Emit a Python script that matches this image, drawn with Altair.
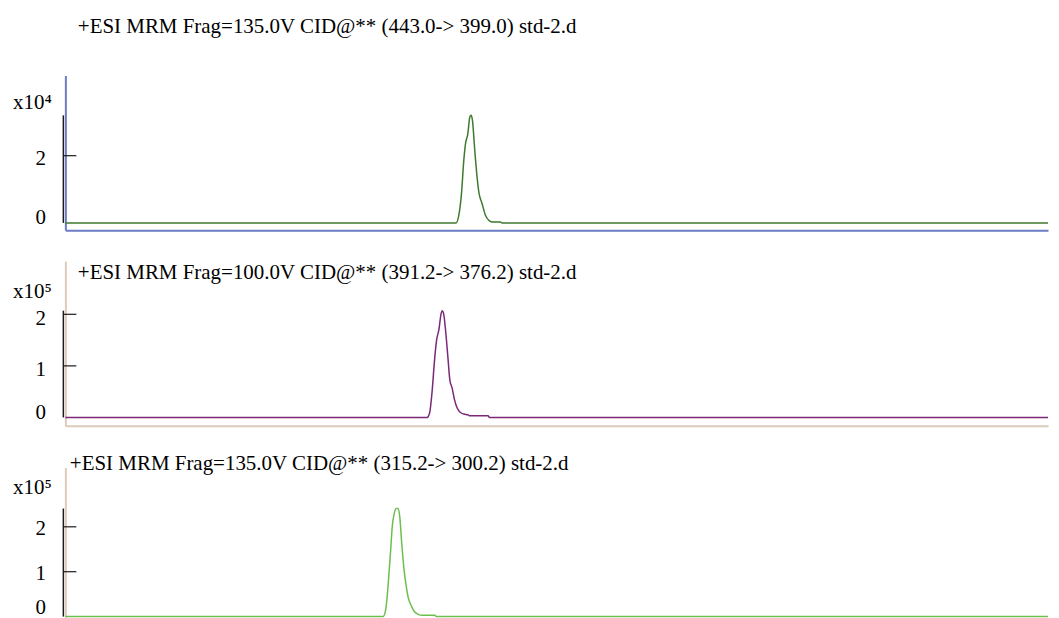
import altair as alt
import pandas as pd

FONT = "Liberation Serif"

# Retention time (min) and abundance (counts)
t1 = [0.0, 4.732, 4.765, 4.797, 4.825, 4.846, 4.874, 4.898, 4.914, 4.930, 4.958,
      4.986, 5.007, 5.046, 5.087, 5.127, 5.167, 5.269, 5.288, 11.9]
i1 = [0, 0, 2300, 8700, 18600, 23600, 26500, 31500, 32000, 30500, 21600,
      13600, 9200, 5800, 2300, 800, 300, 300, 0, 0]

t2 = [0.0, 4.382, 4.411, 4.443, 4.471, 4.496, 4.523, 4.551, 4.563, 4.580, 4.604,
      4.632, 4.656, 4.684, 4.713, 4.745, 4.785, 4.825, 4.874, 4.894, 5.119, 5.136, 11.9]
i2 = [0, 0, 8500, 53600, 111600, 150300, 169600, 201900, 207000, 201900, 169600,
      118000, 72900, 56900, 34200, 18200, 9700, 6600, 5200, 3300, 3300, 0, 0]

t3 = [0.0, 3.847, 3.880, 3.911, 3.940, 3.959, 3.980, 4.008, 4.028, 4.049, 4.073,
      4.101, 4.128, 4.152, 4.181, 4.221, 4.273, 4.322, 4.475, 4.491, 11.9]
i3 = [0, 0, 16200, 75600, 149600, 201300, 227300, 240700, 240700, 223600, 164400,
      105100, 68000, 42200, 27300, 12400, 5100, 2900, 2900, 0, 0]

titles = [
    "+ESI MRM Frag=135.0V CID@** (443.0-> 399.0) std-2.d",
    "+ESI MRM Frag=100.0V CID@** (391.2-> 376.2) std-2.d",
    "+ESI MRM Frag=135.0V CID@** (315.2-> 300.2) std-2.d",
]
scale_labels = ["x10\u2074", "x10\u2075", "x10\u2075"]
exponents = [4, 5, 5]
tick_values = [[20000], [100000, 200000], [100000, 200000]]
y_domains = [[-2166, 43828], [-16050, 303100], [-1500, 331800]]
x_domain = [0, 11.9]

W = 985


def panel(t, inten, title, title_dx, title_offset, line_color, frame_color,
          scale_label, exp, ticks_v, ydom, height, ytitle_y, zero_off, label_off,
          show_bottom=True):
    df = pd.DataFrame({"t": t, "v": inten})
    ysc = alt.Scale(domain=ydom, nice=False, zero=False)
    xsc = alt.Scale(domain=x_domain, nice=False, zero=False)
    yaxis = alt.Axis(
        values=[0] + ticks_v,
        labelExpr=f"datum.value / {10 ** exp}",
        ticks=False, tickSize=0, grid=False,
        domainColor=frame_color, domainWidth=2,
        labelFont=FONT, labelFontSize=21, labelColor="black",
        labelPadding=20, labelBaseline="middle",
        labelOffset={"condition": {"test": "datum.value == 0", "value": zero_off},
                     "value": label_off},
        labelOverlap=False,
        title=scale_label, titleAngle=0, titleAlign="left", titleBaseline="middle",
        titleX=-53, titleY=ytitle_y, titleFont=FONT, titleFontSize=21,
        titleFontWeight="normal", titleColor="black",
    )
    xaxis = alt.Axis(labels=False, ticks=False, title=None, grid=False,
                     domain=show_bottom, domainColor=frame_color, domainWidth=2)
    line = alt.Chart(df).mark_line(
        color=line_color, strokeWidth=1.5, interpolate="monotone"
    ).encode(
        x=alt.X("t:Q", scale=xsc, axis=xaxis),
        y=alt.Y("v:Q", scale=ysc, axis=yaxis),
    )
    bar_df = pd.DataFrame({"v": [0], "v2": [max(inten)]})
    axis_line = alt.Chart(bar_df).mark_rule(color="#1a1a1a", strokeWidth=1.5).encode(
        x=alt.value(-2),
        y=alt.Y("v:Q", scale=ysc, axis=yaxis),
        y2="v2:Q",
    )
    tdf = pd.DataFrame({"v": ticks_v})
    tick_marks = alt.Chart(tdf).mark_rule(color="#1a1a1a", strokeWidth=1.2).encode(
        x=alt.value(-2), x2=alt.value(11),
        y=alt.Y("v:Q", scale=ysc, axis=yaxis),
    )
    return alt.layer(line, axis_line, tick_marks).properties(
        width=W, height=height,
        title=alt.TitleParams(
            text=title, anchor="start", frame="group", dx=title_dx,
            offset=title_offset, font=FONT, fontSize=21, fontWeight="normal",
            color="black", baseline="alphabetic",
        ),
    )


p1 = panel(t1, i1, titles[0], 12.5, 22, "#3f7a2f", "#6a7cc4",
           scale_labels[0], exponents[0], tick_values[0], y_domains[0], 155, 27, -5, 3)
p2 = panel(t2, i2, titles[1], 12.5, -39, "#7b2878", "#dccbbb",
           scale_labels[1], exponents[1], tick_values[1], y_domains[1], 165, 30, -5, 4)
p3 = panel(t3, i3, titles[2], 4.5, -23, "#6cbf4f", "#dccbbb",
           scale_labels[2], exponents[2], tick_values[2], y_domains[2], 150, 20, -9, 2,
           show_bottom=False)

inner = alt.vconcat(p2, p3, spacing=42, bounds="flush")
chart = alt.vconcat(p1, inner, spacing=31, bounds="flush").properties(
    padding={"top": 7, "left": 4.5, "right": 0, "bottom": 0},
    background="white",
).configure_view(stroke=None)

chart.save("out.html", embed_options={"renderer": "svg", "actions": False})
